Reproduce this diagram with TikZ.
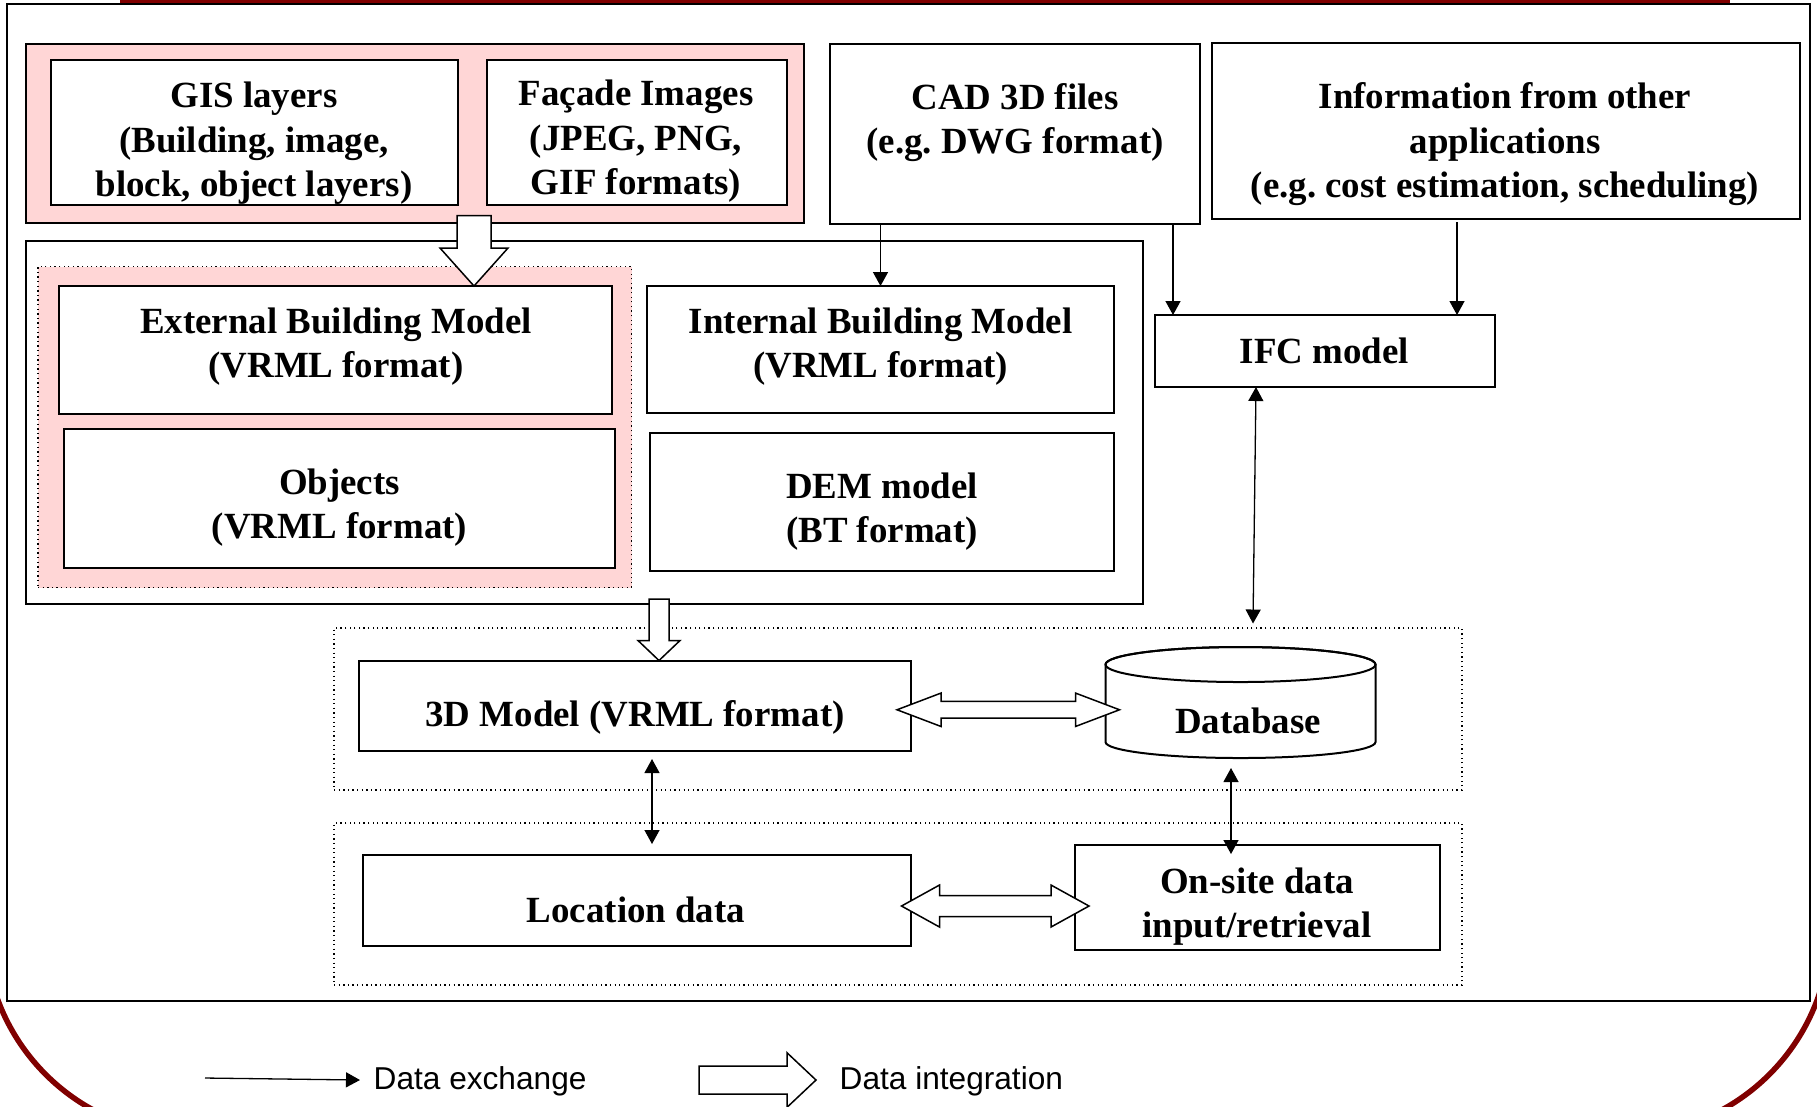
\documentclass[tikz,border=0pt]{standalone}
\usepackage{fontspec}
\setmainfont{Liberation Serif}
\setsansfont{Liberation Sans}
\usetikzlibrary{arrows.meta,calc,fit}
\frenchspacing

\definecolor{frameRed}{RGB}{128,0,0}
\definecolor{pinkFill}{RGB}{255,214,214}

% hollow block arrows: #1 start, #2 tip, #3 shaft half width, #4 head half width, #5 head length
\newcommand{\downblock}[5]{%
  \draw[blockarrow] let \p1=(#1), \p2=(#2) in
    (\x1-#3,\y1) -- (\x1-#3,\y2+#5) -- (\x1-#4,\y2+#5) -- (\x1,\y2)
    -- (\x1+#4,\y2+#5) -- (\x1+#3,\y2+#5) -- (\x1+#3,\y1) -- cycle;}
\newcommand{\dualblock}[5]{%
  \draw[blockarrow] let \p1=(#1), \p2=(#2) in
    (\x1,\y1) -- (\x1+#5,\y1+#4) -- (\x1+#5,\y1+#3) -- (\x2-#5,\y1+#3)
    -- (\x2-#5,\y1+#4) -- (\x2,\y1) -- (\x2-#5,\y1-#4) -- (\x2-#5,\y1-#3)
    -- (\x1+#5,\y1-#3) -- (\x1+#5,\y1-#4) -- cycle;}
\newcommand{\rightblock}[5]{%
  \draw[blockarrow] let \p1=(#1), \p2=(#2) in
    (\x1,\y1+#3) -- (\x2-#5,\y1+#3) -- (\x2-#5,\y1+#4) -- (\x2,\y1)
    -- (\x2-#5,\y1-#4) -- (\x2-#5,\y1-#3) -- (\x1,\y1-#3) -- cycle;}

\begin{document}
\begin{tikzpicture}[x=0.1mm, y=-0.1mm,
  box/.style={draw=black, line width=0.2mm, fill=white, inner sep=0pt, outer sep=0pt},
  pinkbox/.style={box, fill=pinkFill},
  zone/.style={draw=black, line width=0.13mm, dash pattern=on 0.13mm off 0.33mm, inner sep=0pt, outer sep=0pt},
  pinkzone/.style={zone, fill=pinkFill},
  lbl/.style={font=\bfseries\fontsize{10.5}{12.65}\selectfont, align=center, inner sep=0pt,
    execute at begin node=\strut, execute at end node=\strut},
  legendtext/.style={font=\sffamily\fontsize{9}{10.8}\selectfont, anchor=west, inner sep=0pt},
  link/.style={line width=0.13mm, -{Triangle[length=1.4mm,width=1.5mm]}},
  duallink/.style={line width=0.13mm, {Triangle[length=1.4mm,width=1.5mm]}-{Triangle[length=1.4mm,width=1.5mm]}},
  blockarrow/.style={draw=black, line width=0.15mm, fill=white, line join=miter},
]
\useasboundingbox (0,0) rectangle (1817,1106);
\clip (0,0) rectangle (1817,1106);

% dark red rounded backdrop
\draw[frameRed, line width=0.55mm] (120,0.8) -- (1730,0.8);
\draw[frameRed, line width=0.55mm] (-15,800) -- (-15,928)
  arc[start angle=180, end angle=270, radius=20.7mm] -- (1623,1135)
  arc[start angle=270, end angle=360, radius=20.7mm] -- (1830,800);

% outer panel
\node[box, fit={(7,4) (1810,1001)}] (panel) {};

% data sources
\node[pinkbox, fit={(25.5,44) (804,222.5)}] (srcgrp) {};
\node[box, fit={(51,60) (458,205)}] (gis) {};
\node[box, fit={(487,60) (787,205)}] (facade) {};
\node[box, fit={(830,44) (1200,224)}] (cad) {};
\node[box, fit={(1212,43) (1800,219)}] (info) {};

% building models
\node[box, fit={(25.5,241) (1143,604)}] (models) {};
\node[pinkzone, fit={(38,266.5) (631.5,587.5)}] (extzone) {};
\node[box, fit={(59,286) (612,414)}] (ext) {};
\node[box, fit={(64,429) (615,568)}] (obj) {};
\node[box, fit={(647,286) (1114,412.5)}] (int) {};
\node[box, fit={(650,433) (1114,571)}] (dem) {};
\node[box, fit={(1155,315) (1495,387)}] (ifc) {};

% integration and field layers
\node[zone, fit={(334,628) (1462,790)}] (zoneA) {};
\node[zone, fit={(334,823) (1462,985)}] (zoneB) {};
\node[box, fit={(359,660.5) (911,751)}] (m3d) {};
\node[inner sep=0pt, outer sep=0pt, fit={(1105.5,646.5) (1375.5,758)}] (db) {};
\draw[fill=white, line width=0.2mm] (1105.5,664.5) -- (1105.5,742)
  arc[start angle=180, end angle=360, x radius=13.5mm, y radius=1.6mm]
  -- (1375.5,664.5)
  arc[start angle=0, end angle=180, x radius=13.5mm, y radius=1.75mm] -- cycle;
\draw[line width=0.2mm] (db.north |- 0,664.5) ellipse[x radius=13.5mm, y radius=1.75mm];
\node[box, fit={(363,855) (911,945.5)}] (loc) {};
\node[box, fit={(1075,845) (1440,950)}] (onsite) {};

% labels
\node[lbl] (gisT) at (254,146) {GIS layers\\(Building, image,\\block, object layers)};
\node[lbl] (facT) at (636,144) {Façade Images\\(JPEG, PNG,\\GIF formats)};
\node[lbl] (cadT) at (1015,125) {CAD 3D files\\(e.g. DWG format)};
\node[lbl] (infoT) at (1505,147) {Information from other\\applications\\(e.g. cost estimation, scheduling)};
\node[lbl] (extT) at (336,349.5) {External Building Model\\(VRML format)};
\node[lbl] (objT) at (339.5,510.5) {Objects\\(VRML format)};
\node[lbl] (intT) at (880.7,349.5) {Internal Building Model\\(VRML format)};
\node[lbl] (demT) at (882,514.5) {DEM model\\(BT format)};
\node[lbl] (ifcT) at (1324.5,354.5) {IFC model};
\node[lbl] (m3dT) at (635,718) {3D Model (VRML format)};
\node[lbl] (dbT) at (1248,724.5) {Database};
\node[lbl] (locT) at (636,913.5) {Location data};
\node[lbl] (onsT) at (1257,909.5) {On-site data\\input/retrieval};

% data integration (hollow arrows)
\coordinate (srcOut) at (474,215.5);
\downblock{srcOut}{srcOut |- ext.north}{1.7mm}{3.4mm}{3.8mm}
\coordinate (modOut) at (659,599);
\downblock{modOut}{modOut |- m3d.north}{1.0mm}{2.1mm}{2.0mm}
\coordinate (xa) at ($(m3d.east)+(-14,4)$);
\coordinate (xb) at ($(xa -| db.west)+(14,0)$);
\dualblock{xa}{xb}{0.83mm}{1.67mm}{4.4mm}
\coordinate (ya) at ($(loc.east)+(-9.5,5.75)$);
\coordinate (yb) at ($(ya -| onsite.west)+(14,0)$);
\dualblock{ya}{yb}{1.05mm}{2.1mm}{3.8mm}

% data exchange (thin arrows)
\draw[link] (int.north |- cad.south) -- (int.north);
\coordinate (ifcInA) at ($(ifc.north west)+(18,0)$);
\coordinate (ifcInB) at ($(ifc.north east)+(-38,0)$);
\draw[link] (ifcInA |- cad.south) -- (ifcInA);
\draw[link, shorten <=0.3mm] (ifcInB |- info.south) -- (ifcInB);
\coordinate (ifcOut) at ($(ifc.south west)+(101,0)$);
\coordinate (dbTop) at ($(zoneA.north west)+(919,-4.5)$);
\draw[duallink] (ifcOut) -- (dbTop);
\coordinate (vx) at ($(m3d.south west)+(293,0)$);
\draw[duallink, shorten <=0.8mm, shorten >=1.1mm] (vx) -- (vx |- loc.north);
\coordinate (wx) at ($(db.south west)+(125.5,0)$);
\draw[duallink, shorten <=1mm, shorten >=-0.9mm] (wx) -- (wx |- onsite.north);

% legend
\coordinate (lgA) at (205,1078);
\coordinate (lgB) at (360,1080);
\draw[link] (lgA) -- (lgB);
\node[legendtext] (lgT1) at (373,1081) {Data exchange};
\coordinate (lgC) at (699,1080);
\coordinate (lgD) at (816,1080);
\rightblock{lgC}{lgD}{1.4mm}{2.73mm}{2.9mm}
\node[legendtext] (lgT2) at (839,1081) {Data integration};
\end{tikzpicture}
\end{document}
